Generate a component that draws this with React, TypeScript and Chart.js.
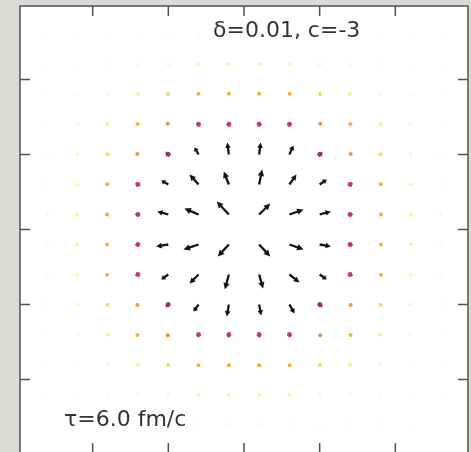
import { useEffect, useRef } from "react";
import { Chart, registerables } from "chart.js";

Chart.register(...registerables);

// Sampling grid of the flow field (fm)
const X_VALUES = [-2.6, -2.2, -1.8, -1.4, -1.0, -0.6, -0.2, 0.2, 0.6, 1.0, 1.4, 1.8, 2.2, 2.6];
const Y_VALUES = [2.6, 2.2, 1.8, 1.4, 1.0, 0.6, 0.2, -0.2, -0.6, -1.0, -1.4, -1.8, -2.2, -2.6];

// Transverse flow components, in units of 10^-3 (one row per Y value)
const U_ROWS = [
  [-0.4, -0.5, -0.6, -0.6, -0.5, -0.4, -0.2, 0.2, 0.4, 0.5, 0.6, 0.6, 0.5, 0.4],
  [-0.6, -0.7, -1.1, -1.3, -1.4, -1.2, -0.5, 0.5, 1.2, 1.4, 1.3, 1.1, 0.7, 0.6],
  [-0.8, -1.4, -2.1, -3.7, -4.9, -5.7, -2.2, 2.2, 5.7, 4.9, 3.7, 2.1, 1.4, 0.8],
  [-1.1, -2.1, -4.7, -13, -16, -18, -6, 6, 18, 16, 13, 4.7, 2.1, 1.1],
  [-1.4, -3.2, -8.7, -20, -38, -53, -20, 20, 53, 38, 20, 8.7, 3.2, 1.4],
  [-1.8, -4.3, -17.1, -41, -93, -120, -67, 40, 93, 93, 41, 17.1, 4.3, 1.8],
  [-2, -5, -19.9, -45, -147, -187, -160, 147, 187, 147, 45, 19.9, 5, 2],
  [-2, -5, -19.9, -45, -160, -200, -147, 147, 187, 147, 45, 19.9, 5, 2],
  [-1.8, -4.3, -17.1, -41, -93, -120, -53, 53, 133, 93, 41, 17.1, 4.3, 1.8],
  [-1.4, -3.2, -8.7, -20, -38, -67, -27, 27, 67, 38, 20, 8.7, 3.2, 1.4],
  [-1.1, -2.1, -4.7, -13, -16, -18, -6, 6, 18, 16, 13, 4.7, 2.1, 1.1],
  [-0.8, -1.4, -2.1, -3.7, -4.9, -5.7, -2.2, 2.2, 5.7, 4.9, 3.7, 2.1, 1.4, 0.8],
  [-0.6, -0.7, -1.1, -1.3, -1.4, -1.2, -0.5, 0.5, 1.2, 1.4, 1.3, 1.1, 0.7, 0.6],
  [-0.4, -0.5, -0.6, -0.6, -0.5, -0.4, -0.2, 0.2, 0.4, 0.5, 0.6, 0.6, 0.5, 0.4],
];

const V_ROWS = [
  [0.4, 0.6, 0.8, 1.1, 1.4, 1.8, 2.0, 2.0, 1.8, 1.4, 1.1, 0.8, 0.6, 0.4],
  [0.5, 0.7, 1.4, 2.1, 3.2, 4.3, 5.0, 5.0, 4.3, 3.2, 2.1, 1.4, 0.7, 0.5],
  [0.6, 1.1, 2.1, 4.7, 8.7, 17.1, 19.9, 19.9, 17.1, 8.7, 4.7, 2.1, 1.1, 0.6],
  [0.6, 1.3, 3.7, 13, 22, 41, 45, 45, 41, 22, 13, 3.7, 1.3, 0.6],
  [0.5, 1.4, 4.9, 15, 38, 93, 160, 160, 120, 38, 15, 4.9, 1.4, 0.5],
  [0.4, 1.2, 5.7, 18, 53, 133, 173, 200, 133, 67, 18, 5.7, 1.2, 0.4],
  [0.2, 0.5, 2.2, 7, 40, 80, 173, 147, 67, 40, 5, 2.2, 0.5, 0.2],
  [-0.2, -0.5, -2.2, -5, -27, -67, -160, -160, -67, -27, -10, -2.2, -0.5, -0.2],
  [-0.4, -1.2, -5.7, -18, -67, -120, -200, -187, -107, -67, -18, -5.7, -1.2, -0.4],
  [-0.5, -1.4, -4.9, -15, -38, -93, -160, -147, -120, -38, -15, -4.9, -1.4, -0.5],
  [-0.6, -1.3, -3.7, -13, -22, -41, -45, -45, -41, -22, -13, -3.7, -1.3, -0.6],
  [-0.6, -1.1, -2.1, -4.7, -8.7, -17.1, -19.9, -19.9, -17.1, -8.7, -4.7, -2.1, -1.1, -0.6],
  [-0.5, -0.7, -1.4, -2.1, -3.2, -4.3, -5.0, -5.0, -4.3, -3.2, -2.1, -1.4, -0.7, -0.5],
  [-0.4, -0.6, -0.8, -1.1, -1.4, -1.8, -2.0, -2.0, -1.8, -1.4, -1.1, -0.8, -0.6, -0.4],
];

const AXIS_TICKS = [-2, -1, 0, 1, 2];
const X_MIN = -2.96;
const X_MAX = 2.96;
const Y_MIN = -2.98;
const Y_MAX = 2.98;
const TOP_LABEL = "δ=0.01, c=-3";
const BOTTOM_LABEL = "τ=6.0 fm/c";

// arrow length in axis units per unit of U/V, and the magnitude where the colour saturates
const VECTOR_UNIT = 1e-3;
const COLOR_MAX = 90;

const INFERNO = [
  "#000004", "#160b39", "#420a68", "#6a176e", "#932667", "#bc3754",
  "#dd513a", "#f37819", "#fca50a", "#f6d746", "#fcffa4",
];

function hexRgb(h: string) {
  return [parseInt(h.slice(1, 3), 16), parseInt(h.slice(3, 5), 16), parseInt(h.slice(5, 7), 16)];
}

function inferno(t: number) {
  const s = Math.max(0, Math.min(1, t)) * (INFERNO.length - 1);
  const i = Math.min(INFERNO.length - 2, Math.floor(s));
  const f = s - i;
  const a = hexRgb(INFERNO[i]);
  const b = hexRgb(INFERNO[i + 1]);
  const c = a.map((v, k) => Math.round(v + (b[k] - v) * f));
  return `rgb(${c[0]},${c[1]},${c[2]})`;
}

const quiverPlugin = {
  id: "quiver",
  beforeDraw(chart: any) {
    const { ctx, chartArea: a } = chart;
    ctx.save();
    ctx.fillStyle = "#ffffff";
    ctx.fillRect(a.left, a.top, a.right - a.left, a.bottom - a.top);
    ctx.restore();
  },
  afterDatasetsDraw(chart: any) {
    const { ctx, chartArea: a } = chart;
    const xs = chart.scales.x;
    const ys = chart.scales.y;
    ctx.save();

    Y_VALUES.forEach((yv, j) => {
      X_VALUES.forEach((xv, i) => {
        const u = U_ROWS[j][i];
        const v = V_ROWS[j][i];
        const m = Math.hypot(u, v);
        const t = Math.min(1, m / COLOR_MAX);
        const color = inferno(1 - t);
        ctx.fillStyle = color;
        ctx.strokeStyle = color;

        const x0 = xs.getPixelForValue(xv);
        const y0 = ys.getPixelForValue(yv);
        const x1 = xs.getPixelForValue(xv + u * VECTOR_UNIT);
        const y1 = ys.getPixelForValue(yv + v * VECTOR_UNIT);
        const dx = x1 - x0;
        const dy = y1 - y0;
        const L = Math.hypot(dx, dy);

        if (L < 2.2) {
          ctx.globalAlpha = Math.min(0.85, 0.1 + t * 9);
          ctx.beginPath();
          ctx.arc(x0 + dx / 2, y0 + dy / 2, 2.0, 0, Math.PI * 2);
          ctx.fill();
          return;
        }
        ctx.globalAlpha = t > 0.8 ? 0.92 : 0.9;
        const ux = dx / L;
        const uy = dy / L;
        const nx = -uy;
        const ny = ux;
        const hl = Math.min(6.5, Math.max(3.2, L * 0.45));
        const hw = Math.min(3.2, Math.max(2.8, hl * 0.5));
        const bx = x1 - ux * hl;
        const by = y1 - uy * hl;
        if (L < hl + 3) {
          // short vectors render as a blob with a small head
          ctx.beginPath();
          ctx.arc(x0, y0, 2.4, 0, Math.PI * 2);
          ctx.fill();
        }
        if (L > hl + 0.5) {
          ctx.lineWidth = 2.3;
          ctx.lineCap = "butt";
          ctx.beginPath();
          ctx.moveTo(x0, y0);
          ctx.lineTo(bx + ux * 0.5, by + uy * 0.5);
          ctx.stroke();
        }
        ctx.beginPath();
        ctx.moveTo(x1, y1);
        ctx.lineTo(bx + nx * hw, by + ny * hw);
        ctx.lineTo(bx - nx * hw, by - ny * hw);
        ctx.closePath();
        ctx.fill();
      });
    });
    ctx.globalAlpha = 1;

    // axes frame with inward ticks
    ctx.strokeStyle = "#505050";
    ctx.lineWidth = 1.5;
    ctx.strokeRect(a.left, a.top, a.right - a.left, a.bottom - a.top);
    ctx.beginPath();
    AXIS_TICKS.forEach((tv) => {
      const px = xs.getPixelForValue(tv);
      ctx.moveTo(px, a.top);
      ctx.lineTo(px, a.top + 10);
      ctx.moveTo(px, a.bottom);
      ctx.lineTo(px, a.bottom - 10);
      const py = ys.getPixelForValue(tv);
      ctx.moveTo(a.left, py);
      ctx.lineTo(a.left + 10, py);
      ctx.moveTo(a.right, py);
      ctx.lineTo(a.right - 10, py);
    });
    ctx.stroke();

    // annotations
    ctx.fillStyle = "#333333";
    ctx.font = '22px "DejaVu Sans"';
    ctx.textAlign = "left";
    ctx.textBaseline = "alphabetic";
    ctx.fillText(TOP_LABEL, a.left + 193, a.top + 31);
    ctx.fillText(BOTTOM_LABEL, a.left + 44, a.top + 420);
    ctx.restore();
  },
};

export default function App() {
  const canvasRef = useRef<HTMLCanvasElement | null>(null);

  useEffect(() => {
    if (!canvasRef.current) return;
    const points: { x: number; y: number }[] = [];
    Y_VALUES.forEach((y) => X_VALUES.forEach((x) => points.push({ x, y })));
    const chart = new Chart(canvasRef.current, {
      type: "scatter",
      data: {
        datasets: [{ data: points, pointRadius: 0, pointHoverRadius: 0 }],
      },
      options: {
        animation: false,
        responsive: false,
        events: [],
        layout: { padding: { left: 20, top: 6, right: 3, bottom: 7 } },
        plugins: { legend: { display: false }, tooltip: { enabled: false } },
        scales: {
          x: { type: "linear", display: false, min: X_MIN, max: X_MAX },
          y: { type: "linear", display: false, min: Y_MIN, max: Y_MAX },
        },
      },
      plugins: [quiverPlugin],
    });
    return () => chart.destroy();
  }, []);

  return (
    <div
      style={{
        position: "fixed",
        left: 0,
        top: 0,
        width: 471,
        height: 452,
        overflow: "hidden",
        background: "#dcdad6",
      }}
    >
      <canvas ref={canvasRef} width={471} height={460} style={{ display: "block" }} />
    </div>
  );
}
